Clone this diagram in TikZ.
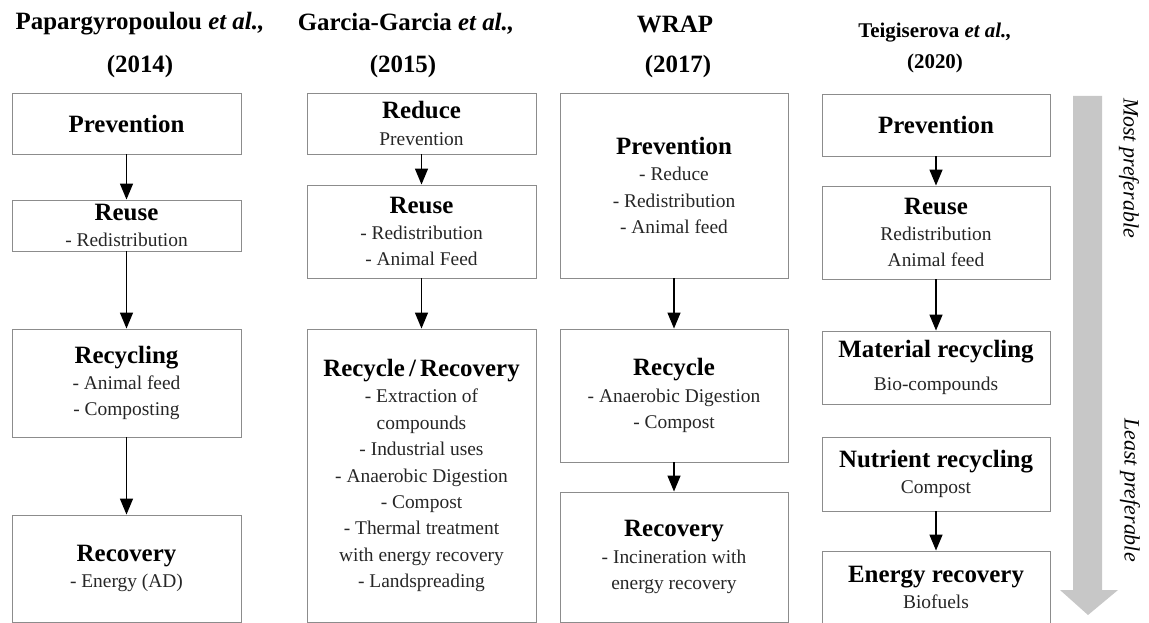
\documentclass[tikz,border=0pt]{standalone}
\usepackage{fontspec}
\setmainfont{Liberation Serif}
\usetikzlibrary{arrows.meta}
\newcommand\ttl[1]{{\fontsize{25}{26.5}\selectfont\bfseries\color{black}#1}}
\newcommand\bx[6]{\node[box, minimum width={(#4-#2)*1bp}, minimum height={(#5-#3)*1bp}] (#1) at ({(#2+#4)/2},{(#3+#5)/2}) {#6};}
\begin{document}
\begin{tikzpicture}[x=1bp,y=-1bp,
 box/.style={draw=black!45, line width=0.9bp, inner sep=0pt, align=center,
   font=\fontsize{19.5}{26.5}\selectfont, text=black!85},
 arr/.style={line width=1.4bp, -{Triangle[width=13bp,length=16bp]}},
 hdr/.style={font=\fontsize{25}{30}\selectfont\bfseries, inner sep=0pt},
 hdrs/.style={font=\fontsize{21}{25}\selectfont\bfseries, inner sep=0pt},
 side/.style={font=\fontsize{22}{25}\selectfont\itshape, inner sep=0pt, rotate=-90}]
\useasboundingbox (0,0) rectangle (1149,623);

% headers
\node[hdr] (h1) at (140,24) {Papargyropoulou \textit{et al.,}};
\node[hdr] (h1y) at (140,67) {(2014)};
\node[hdr] (h2) at (406,24) {Garcia-Garcia \textit{et al.,}};
\node[hdr] (h2y) at (403,67) {(2015)};
\node[hdr] (h3) at (675,24) {WRAP};
\node[hdr] (h3y) at (678,67) {(2017)};
\node[hdrs] (h4) at (935,33) {Teigiserova \textit{et al.,}};
\node[hdrs] (h4y) at (935,63) {(2020)};

% column 1
\bx{a1}{12}{93}{241}{154}{\ttl{Prevention}}
\bx{a2}{12}{200}{241}{251}{\ttl{Reuse}\\- Redistribution}
\bx{a3}{12}{329}{241}{437}{\ttl{Recycling}\\- Animal feed\\- Composting}
\bx{a4}{12}{515}{241}{622}{\ttl{Recovery}\\- Energy (AD)}

% column 2
\bx{b1}{307}{93}{536}{154}{\ttl{Reduce}\\Prevention}
\bx{b2}{307}{185}{536}{278}{\ttl{Reuse}\\- Redistribution\\- Animal Feed}
\bx{b3}{307}{329}{536}{622}{\ttl{Recycle\,/\,Recovery}\\- Extraction of\\compounds\\- Industrial uses\\- Anaerobic Digestion\\- Compost\\- Thermal treatment\\with energy recovery\\- Landspreading}

% column 3
\bx{c1}{560}{93}{788}{278}{\ttl{Prevention}\\- Reduce\\- Redistribution\\- Animal feed}
\bx{c2}{560}{329}{788}{462}{\ttl{Recycle}\\- Anaerobic Digestion\\- Compost}
\bx{c3}{560}{492}{788}{622}{\ttl{Recovery}\\- Incineration with\\energy recovery}

% column 4
\bx{d1}{822}{94}{1050}{156}{\ttl{Prevention}}
\bx{d2}{822}{186}{1050}{279}{\ttl{Reuse}\\Redistribution\\Animal feed}
\bx{d3}{822}{331}{1050}{404}{\ttl{Material recycling}\\[6bp]Bio-compounds}
\bx{d4}{822}{437}{1050}{511}{\ttl{Nutrient recycling}\\Compost}
\bx{d5}{822}{551}{1050}{624}{\ttl{Energy recovery}\\Biofuels}

% arrows
\draw[arr] (a1) -- (a2);
\draw[arr] (a2) -- (a3);
\draw[arr] (a3) -- (a4);
\draw[arr] (b1) -- (b2);
\draw[arr] (b2) -- (b3);
\draw[arr] (c1) -- (c2);
\draw[arr] (c2) -- (c3);
\draw[arr] (d1) -- (d2);
\draw[arr] (d2) -- (d3);
\draw[arr] (d4) -- (d5);

% preference arrow
\fill[black!22] (1073,96) -- (1102,96) -- (1102,590) -- (1118,590) -- (1088,615)
  -- (1060,590) -- (1073,590) -- cycle;
\node[side] (mp) at (1129,168) {Most preferable};
\node[side] (lp) at (1130,490) {Least preferable};
\end{tikzpicture}
\end{document}
